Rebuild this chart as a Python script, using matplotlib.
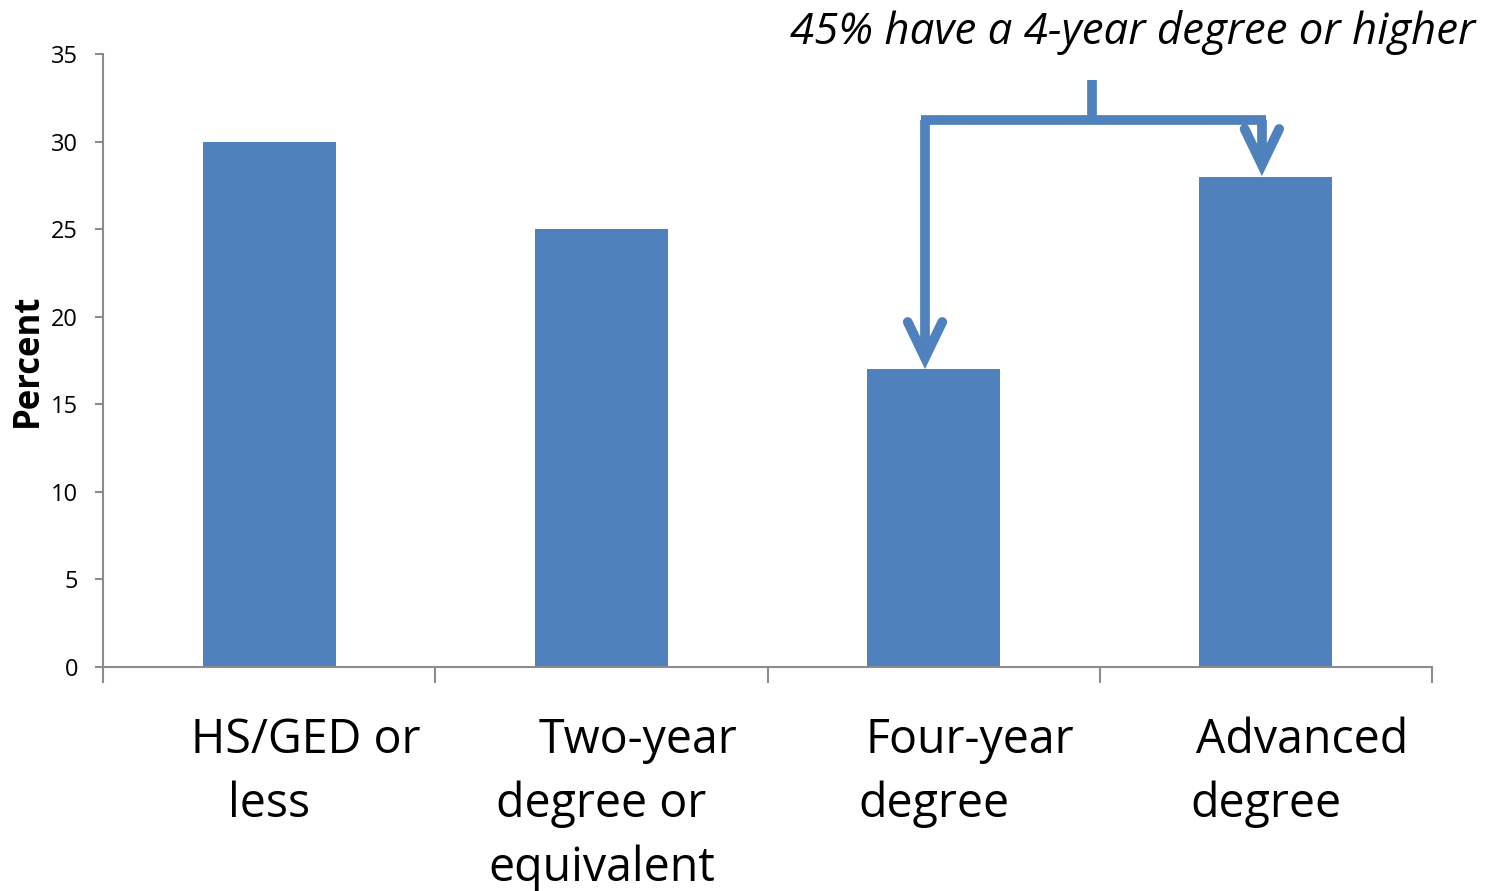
import matplotlib.pyplot as plt

# Education level shares
categories = ["HS/GED or\nless", "Two-year\ndegree or\nequivalent",
              "Four-year\ndegree", "Advanced\ndegree"]
percent = [30, 25, 17, 28]
yticks = [0, 5, 10, 15, 20, 25, 30, 35]
note = "45% have a 4-year degree or higher"

BLUE = "#4F81BD"
GRAY = "#8C8C8C"
FONT = "Open Sans"

fig = plt.figure(figsize=(14.85, 8.91), dpi=100)
ax = fig.add_axes([0.0694, 0.2514, 0.8949, 0.6880])

x = list(range(len(categories)))
ax.bar(x, percent, width=0.4, color=BLUE, zorder=2)

ax.set_xlim(-0.5, len(categories) - 0.5)
ax.set_ylim(0, 35)
ax.set_yticks(yticks)
ax.set_yticklabels([str(v) for v in yticks], fontsize=17, family=FONT)
ax.set_xticks([i - 0.5 for i in range(len(categories) + 1)])
ax.set_xticklabels([])

for side in ("top", "right"):
    ax.spines[side].set_visible(False)
for side in ("left", "bottom"):
    ax.spines[side].set_color(GRAY)
    ax.spines[side].set_linewidth(1.5)
ax.tick_params(axis="y", direction="out", length=6, width=1.5, color=GRAY, pad=12)
ax.tick_params(axis="x", direction="out", length=11.5, width=1.5, color=GRAY)

ax.set_ylabel("Percent", fontsize=25, fontweight="bold", family=FONT, labelpad=4)

# category labels: first line sits a little right of the bar centre
trans = ax.get_xaxis_transform()
for i, lab in enumerate(categories):
    lines = lab.split("\n")
    for j, line in enumerate(lines):
        dx = 0.11 if j == 0 else 0.0
        ax.text(i + dx, -0.119 - j * 0.105, line, transform=trans,
                ha="center", va="center", fontsize=33.5, family=FONT)

# bracket arrow pointing at the four-year and advanced bars
lw = 7
y_bar = percent[2] + 0.65
y_adv = percent[3] + 0.67
y_top = 31.25
x_l, x_r, x_s = 1.974, 2.988, 2.477
kw = dict(color=BLUE, lw=lw, solid_capstyle="butt", clip_on=False, zorder=3)
ax.plot([x_s, x_s], [y_top, 33.5], **kw)
ax.plot([x_l - 0.012, x_r + 0.012], [y_top, y_top], **kw)
ax.plot([x_l, x_l], [y_top, y_bar], **kw)
ax.plot([x_r, x_r], [y_top, y_adv], **kw)
hw, hh = 0.052, 2.05
kw_head = dict(color=BLUE, lw=lw, solid_capstyle="round",
               solid_joinstyle="miter", clip_on=False, zorder=3)
for xc, yt in ((x_l, y_bar), (x_r, y_adv)):
    ax.plot([xc - hw, xc, xc + hw], [yt + hh, yt, yt + hh], **kw_head)

fig.text(0.9933, 0.963, note, ha="right", va="center", fontsize=31.5,
         style="italic", family=FONT)

fig.savefig("out.png", dpi=100)
